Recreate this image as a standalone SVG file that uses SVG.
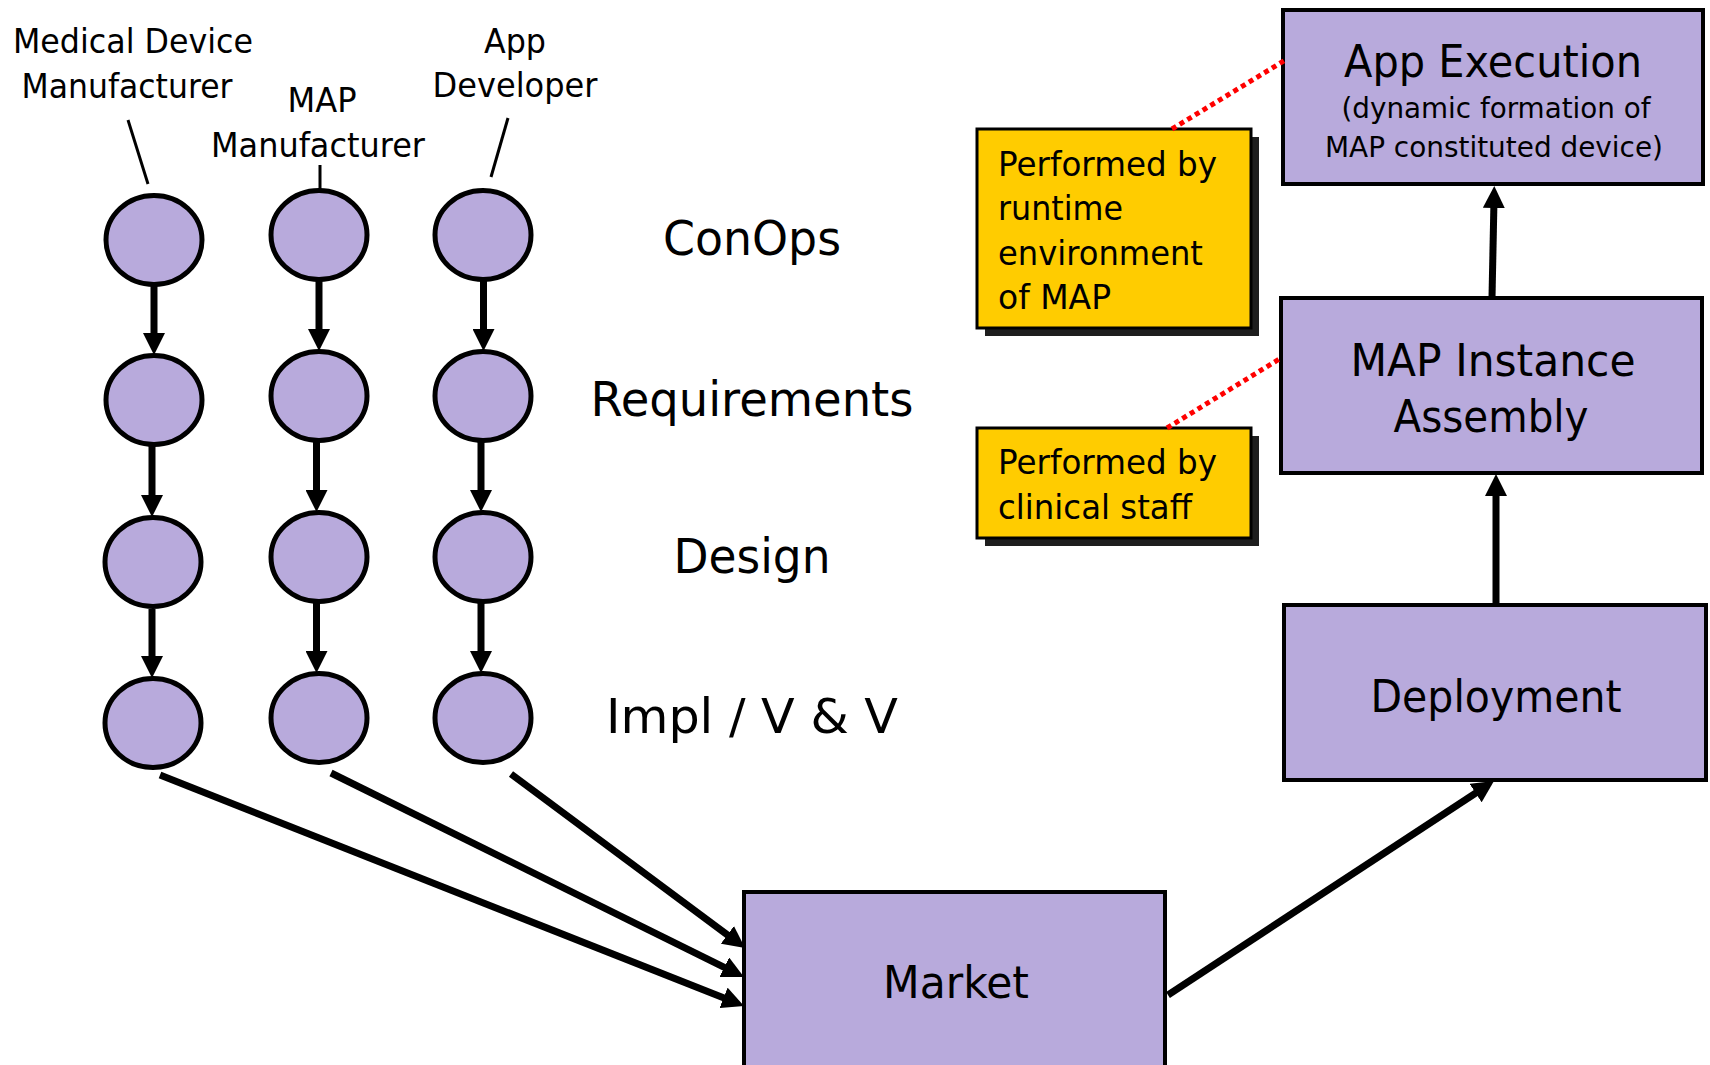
<svg xmlns="http://www.w3.org/2000/svg" width="1710" height="1065" viewBox="0 0 1710 1065">
<style>
  text { font-family: "DejaVu Sans", "Liberation Sans", sans-serif; fill: #000; }
  .lbl { font-size: 33px; text-anchor: middle; }
  .phase { font-size: 48px; text-anchor: middle; }
  .big { font-size: 44px; text-anchor: middle; }
  .sub { font-size: 29px; text-anchor: middle; }
  .note { font-size: 34px; }
  .circ { fill: #B8AADC; stroke: #000; stroke-width: 5; }
  .box { fill: #B8AADC; stroke: #000; stroke-width: 4; }
  .ybox { fill: #FFCC00; stroke: #000; stroke-width: 3; }
  .shadow { fill: #1E1E1E; }
  .arr { stroke: #000; stroke-width: 7; fill: none; marker-end: url(#ah); }
  .ptr { stroke: #000; stroke-width: 3; fill: none; }
  .dot { stroke: #FF0000; stroke-width: 5; stroke-dasharray: 5 4; fill: none; }
</style>
<defs>
  <marker id="ah" viewBox="0 0 22 22" refX="8" refY="11" markerWidth="22" markerHeight="22" markerUnits="userSpaceOnUse" orient="auto">
    <path d="M0,0 L22,11 L0,22 z" fill="#000"/>
  </marker>
</defs>
<rect width="1710" height="1065" fill="#fff"/>

<g id="labels">
  <text class="lbl" x="133" y="53" textLength="240" lengthAdjust="spacingAndGlyphs">Medical Device</text>
  <text class="lbl" x="127" y="98" textLength="211" lengthAdjust="spacingAndGlyphs">Manufacturer</text>
  <text class="lbl" x="322" y="112" textLength="69" lengthAdjust="spacingAndGlyphs">MAP</text>
  <text class="lbl" x="318" y="157" textLength="214" lengthAdjust="spacingAndGlyphs">Manufacturer</text>
  <text class="lbl" x="515" y="53" textLength="62" lengthAdjust="spacingAndGlyphs">App</text>
  <text class="lbl" x="515" y="97" textLength="165" lengthAdjust="spacingAndGlyphs">Developer</text>
  <text class="phase" x="752" y="255" textLength="178" lengthAdjust="spacingAndGlyphs">ConOps</text>
  <text class="phase" x="752" y="416" textLength="323" lengthAdjust="spacingAndGlyphs">Requirements</text>
  <text class="phase" x="752" y="573" textLength="157" lengthAdjust="spacingAndGlyphs">Design</text>
  <text class="phase" x="752" y="733" textLength="292" lengthAdjust="spacingAndGlyphs">Impl / V &amp; V</text>
</g>

<g id="col1">
  <ellipse id="c1r1" class="circ" cx="154" cy="240" rx="48" ry="44.5"/>
  <ellipse id="c1r2" class="circ" cx="154" cy="400" rx="48" ry="44.5"/>
  <ellipse id="c1r3" class="circ" cx="153" cy="562" rx="48" ry="44.5"/>
  <ellipse id="c1r4" class="circ" cx="153" cy="723" rx="48" ry="44.5"/>
</g>
<g id="col2">
  <ellipse id="c2r1" class="circ" cx="319" cy="235" rx="48" ry="44.5"/>
  <ellipse id="c2r2" class="circ" cx="319" cy="396" rx="48" ry="44.5"/>
  <ellipse id="c2r3" class="circ" cx="319" cy="557" rx="48" ry="44.5"/>
  <ellipse id="c2r4" class="circ" cx="319" cy="718" rx="48" ry="44.5"/>
</g>
<g id="col3">
  <ellipse id="c3r1" class="circ" cx="483" cy="235" rx="48" ry="44.5"/>
  <ellipse id="c3r2" class="circ" cx="483" cy="396" rx="48" ry="44.5"/>
  <ellipse id="c3r3" class="circ" cx="483" cy="557" rx="48" ry="44.5"/>
  <ellipse id="c3r4" class="circ" cx="483" cy="718" rx="48" ry="44.5"/>
</g>

<g id="appExecution">
  <rect class="box" x="1283" y="10" width="420" height="174"/>
  <text class="big" x="1493" y="77" textLength="298" lengthAdjust="spacingAndGlyphs">App Execution</text>
  <text class="sub" x="1496" y="118" textLength="309" lengthAdjust="spacingAndGlyphs">(dynamic formation of</text>
  <text class="sub" x="1494" y="157" textLength="338" lengthAdjust="spacingAndGlyphs">MAP constituted device)</text>
</g>
<g id="mapInstanceAssembly">
  <rect class="box" x="1281" y="298" width="421" height="175"/>
  <text class="big" x="1493" y="376" textLength="285" lengthAdjust="spacingAndGlyphs">MAP Instance</text>
  <text class="big" x="1491" y="432" textLength="195" lengthAdjust="spacingAndGlyphs">Assembly</text>
</g>
<g id="deployment">
  <rect class="box" x="1284" y="605" width="422" height="175"/>
  <text class="big" x="1496" y="712" textLength="251" lengthAdjust="spacingAndGlyphs">Deployment</text>
</g>
<g id="market">
  <rect class="box" x="744" y="892" width="421" height="190"/>
  <text class="big" x="956" y="998" textLength="146" lengthAdjust="spacingAndGlyphs">Market</text>
</g>

<g id="noteRuntime">
  <rect class="shadow" x="985" y="137" width="274" height="199"/>
  <rect class="ybox" x="977" y="129" width="274" height="199"/>
  <text class="note" x="998" y="176" textLength="219" lengthAdjust="spacingAndGlyphs">Performed by</text>
  <text class="note" x="998" y="220" textLength="125" lengthAdjust="spacingAndGlyphs">runtime</text>
  <text class="note" x="998" y="265" textLength="205" lengthAdjust="spacingAndGlyphs">environment</text>
  <text class="note" x="998" y="309" textLength="113" lengthAdjust="spacingAndGlyphs">of MAP</text>
</g>
<g id="noteClinical">
  <rect class="shadow" x="985" y="436" width="274" height="110"/>
  <rect class="ybox" x="977" y="428" width="274" height="110"/>
  <text class="note" x="998" y="474" textLength="219" lengthAdjust="spacingAndGlyphs">Performed by</text>
  <text class="note" x="998" y="519" textLength="194" lengthAdjust="spacingAndGlyphs">clinical staff</text>
</g>

<g id="connectors">
  <line class="ptr" x1="128" y1="120" x2="148" y2="184"/>
  <line class="ptr" x1="320" y1="165" x2="320" y2="191"/>
  <line class="ptr" x1="508" y1="118" x2="491" y2="177"/>

  <line class="arr" x1="154" y1="285" x2="154" y2="341"/>
  <line class="arr" x1="152" y1="446" x2="152" y2="503"/>
  <line class="arr" x1="152" y1="609" x2="152" y2="664"/>
  <line class="arr" x1="319" y1="280" x2="319" y2="337"/>
  <line class="arr" x1="316.5" y1="441" x2="316.5" y2="498"/>
  <line class="arr" x1="316.5" y1="603" x2="316.5" y2="659"/>
  <line class="arr" x1="483.5" y1="280" x2="483.5" y2="337"/>
  <line class="arr" x1="481" y1="441" x2="481" y2="498"/>
  <line class="arr" x1="481" y1="603" x2="481" y2="659"/>

  <line class="arr" x1="160" y1="775" x2="731" y2="1000.8"/>
  <line class="arr" x1="331" y1="773" x2="731.4" y2="970.8"/>
  <line class="arr" x1="511" y1="774" x2="733.8" y2="939.6"/>
  <line class="arr" x1="1168" y1="995" x2="1482.3" y2="788.7"/>
  <line class="arr" x1="1496" y1="605" x2="1496" y2="488"/>
  <line class="arr" x1="1492" y1="298" x2="1494" y2="200"/>

  <line class="dot" x1="1172" y1="129" x2="1287" y2="59"/>
  <line class="dot" x1="1167" y1="428" x2="1281" y2="358"/>
</g>
</svg>
